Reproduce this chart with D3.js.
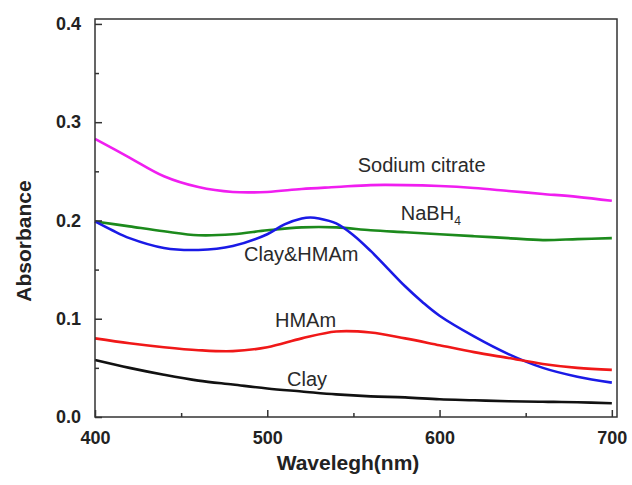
<!DOCTYPE html>
<html>
<head>
<meta charset="utf-8">
<script src="https://cdn.jsdelivr.net/npm/d3@7"></script>
<style>
    body { margin: 0; background: #fff; }
    text { font-family: "Liberation Sans", Arial, sans-serif; }
</style>
</head>
<body>
<div id="chart"></div>
<script>
// wavelength grid (nm) shared by most spectra
const wavelength = [400, 420, 440, 460, 480, 500, 520, 540, 560, 580, 600, 620, 640, 660, 680, 700];
const sodiumCitrate = [0.283, 0.264, 0.245, 0.234, 0.229, 0.229, 0.232, 0.234, 0.236, 0.236, 0.235, 0.233, 0.230, 0.227, 0.224, 0.220];
const nabh4 = [0.199, 0.194, 0.189, 0.185, 0.186, 0.190, 0.193, 0.193, 0.190, 0.188, 0.186, 0.184, 0.182, 0.180, 0.181, 0.182];
const hmam = [0.080, 0.075, 0.071, 0.068, 0.067, 0.071, 0.080, 0.087, 0.086, 0.080, 0.073, 0.066, 0.060, 0.054, 0.050, 0.048];
const clay = [0.058, 0.050, 0.043, 0.037, 0.033, 0.029, 0.026, 0.023, 0.021, 0.020, 0.018, 0.017, 0.016, 0.0155, 0.015, 0.014];

// Clay&HMAm has a sharper peak, read on a finer grid
const wavelengthClayHMAm = [400, 410, 420, 440, 460, 480, 500, 510, 520, 525, 530, 540, 550, 560, 570, 580, 590, 600, 620, 640, 660, 680, 700];
const clayHMAm = [0.199, 0.190, 0.182, 0.172, 0.170, 0.174, 0.186, 0.196, 0.202, 0.203, 0.202, 0.197, 0.185, 0.169, 0.151, 0.133, 0.117, 0.103, 0.082, 0.064, 0.050, 0.041, 0.035];

// curve labels: text, wavelength and absorbance of the text start
const labelText = ["Sodium citrate", "NaBH", "Clay&HMAm", "HMAm", "Clay"];
const labelWave = [552.5, 577.5, 486.5, 504.5, 511.5];
const labelAbs = [0.2494, 0.2005, 0.1588, 0.0916, 0.0316];

const xTicks = [400, 500, 600, 700];
const xMinor = [450, 550, 650];
const yTicks = [0.0, 0.1, 0.2, 0.3, 0.4];
const yMinor = [0.05, 0.15, 0.25, 0.35];

const width = 632;
const height = 485;
const margin = { top: 19, right: 15, bottom: 68, left: 95 };

const svg = d3.select("#chart")
    .append("svg")
    .attr("width", width)
    .attr("height", height);

const x = d3.scaleLinear()
    .domain([400, 703])
    .range([margin.left, width - margin.right]);

const y = d3.scaleLinear()
    .domain([0, 0.405])
    .range([height - margin.bottom, margin.top]);

const series = [
    { w: wavelength, v: sodiumCitrate, color: "#f01ef0" },
    { w: wavelength, v: nabh4, color: "#1c8a1c" },
    { w: wavelengthClayHMAm, v: clayHMAm, color: "#1a1ae6" },
    { w: wavelength, v: hmam, color: "#f01818" },
    { w: wavelength, v: clay, color: "#111" }
];

const line = d3.line()
    .x(d => x(d[0]))
    .y(d => y(d[1]))
    .curve(d3.curveCatmullRom.alpha(0.5));

series.forEach(s => {
    svg.append("path")
        .datum(s.w.map((w, i) => [w, s.v[i]]))
        .attr("fill", "none")
        .attr("stroke", s.color)
        .attr("stroke-width", 2.6)
        .attr("stroke-linejoin", "round")
        .attr("d", line);
});

// frame
svg.append("rect")
    .attr("x", x(400))
    .attr("y", y(0.405))
    .attr("width", x(703) - x(400))
    .attr("height", y(0) - y(0.405))
    .attr("fill", "none")
    .attr("stroke", "#333")
    .attr("stroke-width", 1.5);

// X axis, ticks inside
const xAxis = svg.append("g")
    .attr("transform", `translate(0,${y(0)})`)
    .call(d3.axisBottom(x).tickValues(xTicks).tickSize(-7).tickPadding(14).tickFormat(d3.format("d")));
xAxis.select(".domain").remove();
xAxis.selectAll("text")
    .style("font-size", "18px")
    .style("font-weight", "bold")
    .attr("fill", "#222");
xAxis.selectAll("line").attr("stroke", "#333").attr("stroke-width", 1.5);

svg.append("g")
    .attr("transform", `translate(0,${y(0)})`)
    .call(d3.axisBottom(x).tickValues(xMinor).tickSize(-4).tickFormat(""))
    .call(g => g.select(".domain").remove())
    .selectAll("line").attr("stroke", "#333").attr("stroke-width", 1.5);

// Y axis, ticks inside
const yAxis = svg.append("g")
    .attr("transform", `translate(${x(400)},0)`)
    .call(d3.axisLeft(y).tickValues(yTicks).tickSize(-7).tickPadding(14).tickFormat(d3.format(".1f")));
yAxis.select(".domain").remove();
yAxis.selectAll("text")
    .style("font-size", "18px")
    .style("font-weight", "bold")
    .attr("fill", "#222");
yAxis.selectAll("line").attr("stroke", "#333").attr("stroke-width", 1.5);

svg.append("g")
    .attr("transform", `translate(${x(400)},0)`)
    .call(d3.axisLeft(y).tickValues(yMinor).tickSize(-4).tickFormat(""))
    .call(g => g.select(".domain").remove())
    .selectAll("line").attr("stroke", "#333").attr("stroke-width", 1.5);

// curve labels
labelText.forEach((t, i) => {
    const txt = svg.append("text")
        .attr("x", x(labelWave[i]))
        .attr("y", y(labelAbs[i]))
        .attr("fill", "#2a2a2a")
        .style("font-size", "20px")
        .text(t);
    if (t === "NaBH") {
        txt.append("tspan")
            .attr("dy", 5)
            .style("font-size", "12px")
            .text("4");
    }
});

// axis titles
svg.append("text")
    .attr("x", 348)
    .attr("y", 470)
    .attr("text-anchor", "middle")
    .attr("fill", "#222")
    .style("font-size", "21px")
    .style("font-weight", "bold")
    .text("Wavelegh(nm)");

svg.append("text")
    .attr("transform", "translate(31,241) rotate(-90)")
    .attr("text-anchor", "middle")
    .attr("fill", "#222")
    .style("font-size", "21px")
    .style("font-weight", "bold")
    .text("Absorbance");
</script>
</body>
</html>
